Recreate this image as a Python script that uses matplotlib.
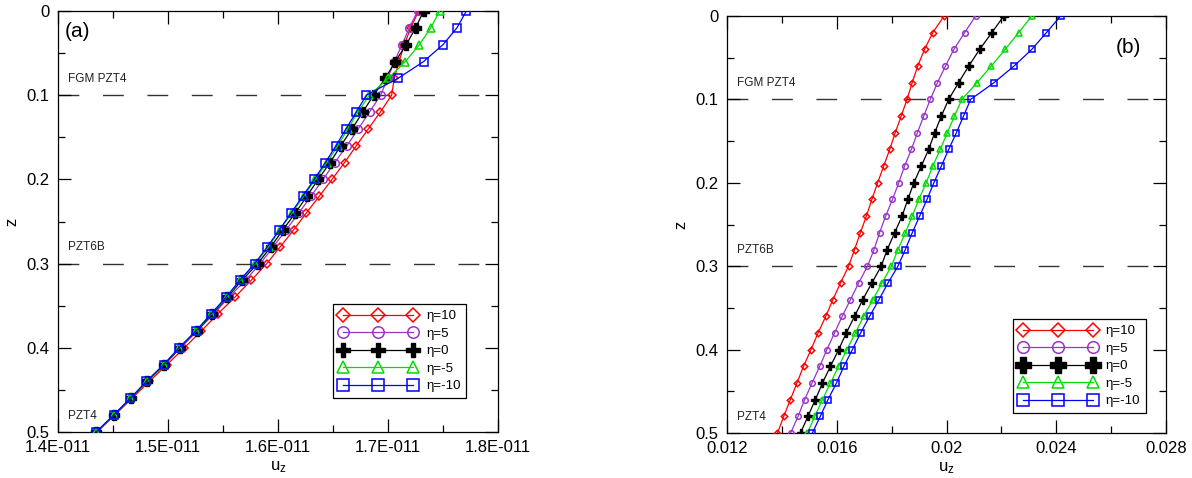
import numpy as np
import matplotlib
matplotlib.use("Agg")
import matplotlib.pyplot as plt
from matplotlib.ticker import MultipleLocator, FuncFormatter

plt.rcParams['font.family'] = ['Liberation Sans', 'DejaVu Sans']
plt.rcParams['mathtext.fontset'] = 'custom'
plt.rcParams['mathtext.rm'] = 'Liberation Sans'
plt.rcParams['mathtext.it'] = 'Liberation Sans'

# thickness coordinate, 0 = top surface
z = np.arange(0, 0.5001, 0.02)

labels = ['η=10', 'η=5', 'η=0', 'η=-5', 'η=-10']
colors = ['#ff0000', '#9933cc', '#000000', '#00dd00', '#0000ff']
markers = ['D', 'o', 'P', '^', 's']

# panel (a), values in units of 1e-11
ua_p10 = [1.7278, 1.7207, 1.7148, 1.7100, 1.7057, 1.7033, 1.6930, 1.6821, 1.6712,
          1.6605, 1.6491, 1.6375, 1.6257, 1.6142, 1.6021, 1.5898, 1.5755, 1.5607,
          1.5451, 1.5303, 1.5148, 1.4991, 1.4830, 1.4673, 1.4515, 1.4355]
ua_p5 = [1.7269, 1.7194, 1.7127, 1.7059, 1.6996, 1.6933, 1.6832, 1.6730, 1.6627,
         1.6516, 1.6409, 1.6300, 1.6189, 1.6073, 1.5957, 1.5839, 1.5703, 1.5553,
         1.5415, 1.5264, 1.5112, 1.4971, 1.4812, 1.4664, 1.4509, 1.4348]
ua_0 = [1.7324, 1.7251, 1.7166, 1.7066, 1.6975, 1.6869, 1.6771, 1.6673, 1.6571,
        1.6473, 1.6366, 1.6262, 1.6157, 1.6045, 1.5935, 1.5816, 1.5670, 1.5540,
        1.5400, 1.5262, 1.5108, 1.4966, 1.4808, 1.4661, 1.4507, 1.4349]
ua_m5 = [1.7469, 1.7389, 1.7285, 1.7157, 1.7003, 1.6830, 1.6727, 1.6635, 1.6544,
         1.6445, 1.6339, 1.6233, 1.6127, 1.6015, 1.5915, 1.5794, 1.5655, 1.5532,
         1.5392, 1.5256, 1.5103, 1.4962, 1.4805, 1.4658, 1.4506, 1.4348]
ua_m10 = [1.7712, 1.7627, 1.7500, 1.7324, 1.7091, 1.6803, 1.6712, 1.6618, 1.6527,
          1.6430, 1.6330, 1.6224, 1.6118, 1.6012, 1.5903, 1.5789, 1.5651, 1.5527,
          1.5389, 1.5253, 1.5100, 1.4960, 1.4803, 1.4657, 1.4505, 1.4348]

# panel (b)
ub_p10 = [0.01991, 0.01950, 0.01920, 0.01895, 0.01875, 0.01856, 0.01835, 0.01813,
          0.01793, 0.01771, 0.01749, 0.01728, 0.01708, 0.01686, 0.01665, 0.01643,
          0.01614, 0.01586, 0.01560, 0.01532, 0.01506, 0.01479, 0.01455, 0.01431,
          0.01407, 0.01384]
ub_p5 = [0.02106, 0.02066, 0.02027, 0.01996, 0.01967, 0.01941, 0.01917, 0.01894,
         0.01872, 0.01847, 0.01826, 0.01803, 0.01778, 0.01756, 0.01736, 0.01712,
         0.01680, 0.01650, 0.01620, 0.01592, 0.01564, 0.01538, 0.01510, 0.01483,
         0.01459, 0.01432]
ub_0 = [0.02209, 0.02165, 0.02121, 0.02081, 0.02044, 0.02008, 0.01981, 0.01957,
        0.01935, 0.01908, 0.01881, 0.01859, 0.01838, 0.01811, 0.01784, 0.01762,
        0.01728, 0.01695, 0.01665, 0.01635, 0.01607, 0.01577, 0.01548, 0.01522,
        0.01495, 0.01468]
ub_m5 = [0.02311, 0.02263, 0.02214, 0.02163, 0.02111, 0.02056, 0.02029, 0.02003,
         0.01977, 0.01950, 0.01926, 0.01899, 0.01875, 0.01850, 0.01823, 0.01799,
         0.01765, 0.01732, 0.01698, 0.01668, 0.01637, 0.01607, 0.01577, 0.01548,
         0.01520, 0.01493]
ub_m10 = [0.02416, 0.02364, 0.02311, 0.02246, 0.02173, 0.02088, 0.02062, 0.02036,
          0.02008, 0.01981, 0.01954, 0.01929, 0.01902, 0.01875, 0.01850, 0.01823,
          0.01787, 0.01754, 0.01720, 0.01687, 0.01657, 0.01626, 0.01599, 0.01568,
          0.01540, 0.01511]

series_a = [np.array(s) * 1e-11 for s in (ua_p10, ua_p5, ua_0, ua_m5, ua_m10)]
series_b = [ub_p10, ub_p5, ub_0, ub_m5, ub_m10]

layers = [(0.1, 'FGM PZT4'), (0.3, 'PZT6B'), (0.5, 'PZT4')]


def sci_fmt(v, pos):
    s = f"{v:.1E}"
    return s.replace("E-", "E-0")


fig = plt.figure(figsize=(11.92, 4.78), dpi=100)
ax1 = fig.add_axes([58 / 1192, 1 - 432 / 478, 440 / 1192, 421 / 478])
ax2 = fig.add_axes([727 / 1192, 1 - 433 / 478, 439 / 1192, 417 / 478])


def style(ax, series, xlim, xmaj, xmin, xfmt, msize, mscale, legpos, tag, tagpos):
    for u, lab, c, m in zip(series, labels, colors, markers):
        if m == 'P':
            ax.plot(u, z, '-', color=c, lw=0.9, marker=m, ms=msize + 1.2,
                    mfc=c, mec=c, label=lab, zorder=3)
        else:
            s = msize * 0.82 if m == 'D' else msize
            ax.plot(u, z, '-', color=c, lw=0.9, marker=m, ms=s,
                    mfc='none', mec=c, mew=1.1, label=lab, zorder=3)
    for zz, name in layers:
        if zz < 0.5:
            ax.axhline(zz, color='#333333', lw=1.0, dashes=(15, 17), zorder=1)
        ax.text(0.022, zz - 0.012, name, transform=ax.get_yaxis_transform(),
                fontsize=8.5, color='#222222', va='bottom', ha='left')
    ax.set_xlim(*xlim)
    ax.set_ylim(0.5, 0)
    ax.xaxis.set_major_locator(MultipleLocator(xmaj))
    ax.xaxis.set_minor_locator(MultipleLocator(xmin))
    ax.xaxis.set_major_formatter(FuncFormatter(xfmt))
    ax.yaxis.set_major_locator(MultipleLocator(0.1))
    ax.yaxis.set_minor_locator(MultipleLocator(0.05))
    ax.yaxis.set_major_formatter(FuncFormatter(lambda v, p: f"{v:g}"))
    ax.tick_params(which='both', direction='in', top=True, right=True,
                   labelsize=12, pad=6, width=0.9)
    ax.tick_params(which='major', length=9.5)
    ax.tick_params(which='minor', length=4.8)
    for sp in ax.spines.values():
        sp.set_linewidth(0.9)
    ax.set_xlabel('u$_\\mathregular{z}$', fontsize=12, labelpad=3)
    ax.set_ylabel('z', fontsize=12, labelpad=5)
    leg = ax.legend(loc='upper left', bbox_to_anchor=legpos, borderaxespad=0,
                    numpoints=3, markerscale=mscale, fontsize=9.5, frameon=True,
                    fancybox=False, edgecolor='black', framealpha=1,
                    handlelength=5.9, handletextpad=0.7, labelspacing=0.4,
                    borderpad=0.45)
    leg.get_frame().set_linewidth(0.9)
    ax.text(tagpos[0], tagpos[1], tag, transform=ax.transAxes, fontsize=15,
            ha='left', va='center')


style(ax1, series_a, (1.4e-11, 1.8e-11), 0.1e-11, 0.05e-11, sci_fmt, 5.5, 1.5,
      (0.625, 0.304), '(a)', (0.016, 0.952))
style(ax2, series_b, (0.012, 0.028), 0.004, 0.002, lambda v, p: f"{v:g}", 4.0, 2.1,
      (0.651, 0.273), '(b)', (0.885, 0.925))

fig.savefig('out.png', dpi=100)
